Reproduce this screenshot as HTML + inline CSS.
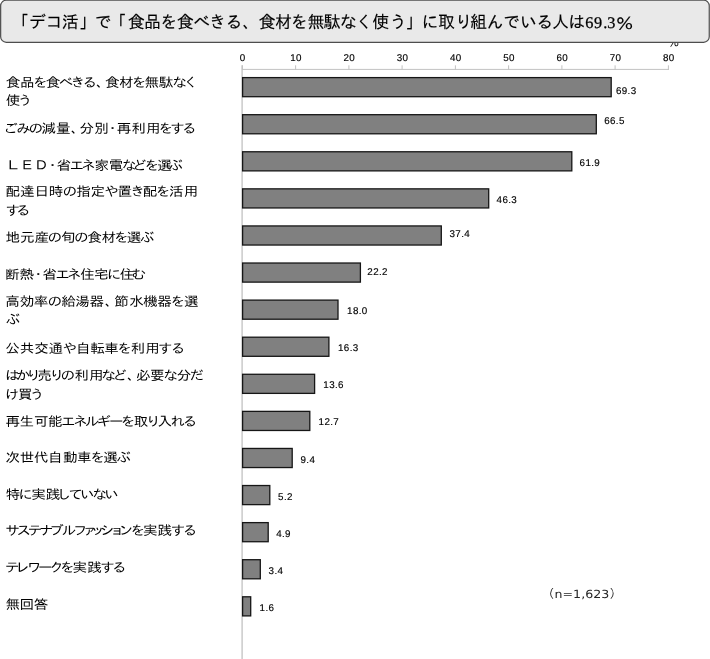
<!DOCTYPE html>
<html lang="ja">
<head>
<meta charset="utf-8">
<title>デコ活</title>
<style>
html,body{margin:0;padding:0;background:#fff;}
body{width:710px;height:659px;overflow:hidden;position:relative;}
svg{display:block;position:absolute;left:0;top:0;}
text{text-rendering:geometricPrecision;}
.lab{font-family:"IPAGothic","Noto Sans CJK JP",sans-serif;font-size:14.6px;fill:#000;}
.val{font-family:"Liberation Sans",sans-serif;font-size:9.8px;fill:#000;letter-spacing:0.38px;stroke:#000;stroke-width:0.15px;}
.tick{font-family:"Liberation Sans",sans-serif;font-size:9.8px;fill:#000;text-anchor:middle;letter-spacing:0.2px;stroke:#000;stroke-width:0.15px;}
.ttl{font-family:"IPAGothic","Noto Sans CJK JP",sans-serif;font-size:17px;fill:#000;stroke:#000;stroke-width:0.12px;}
.ttln{font-family:"Liberation Serif",serif;font-size:16.3px;fill:#000;stroke:#000;stroke-width:0.3px;}
.nn{font-family:"DejaVu Sans",sans-serif;font-size:11.2px;fill:#262626;}
.np{font-family:"IPAGothic","Noto Sans CJK JP",sans-serif;font-size:12px;fill:#262626;}
</style>
</head>
<body>
<svg width="710" height="659" viewBox="0 0 710 659">
<text x="668.3" y="45.6" class="lab" style="font-size:11px">％</text>
<rect x="0.65" y="0.25" width="708.6" height="42.05" rx="5.6" ry="5.6" fill="#e9e9e9" stroke="#4d4d4d" stroke-width="1.2"/>
<text x="11.76 29.05 45.85 61.72 79.29 94.78 109.31 127.74 144.11 160.13 176.74 193.24 208.97 225.56 242.52 258.44 274.89 290.78 307.50 323.46 339.68 355.86 372.21 389.66 405.74 421.57 437.98 455.21 470.10 486.57 503.28 520.01 536.16 552.11 568.32" y="28.0" class="ttl">「デコ活」で「食品を食べきる、食材を無駄なく使う」に取り組んでいる人は</text>
<text x="585.3 594.0 603.3 607.3" y="28.3" class="ttln">69.3</text>
<text transform="translate(615.71,28.6) scale(1,0.84)" class="ttl" style="font-size:17.8px">％</text>
<line x1="242.1" y1="65.3" x2="242.1" y2="659" stroke="#c2c2c2" stroke-width="1.3"/>
<line x1="242.4" y1="69.4" x2="668.9" y2="69.4" stroke="#c2c2c2" stroke-width="1"/>
<line x1="242.4" y1="65.3" x2="242.4" y2="69.9" stroke="#c2c2c2" stroke-width="1"/>
<text x="242.7" y="60.6" class="tick">0</text>
<line x1="295.6" y1="65.3" x2="295.6" y2="69.9" stroke="#c2c2c2" stroke-width="1"/>
<text x="295.9" y="60.6" class="tick">10</text>
<line x1="348.9" y1="65.3" x2="348.9" y2="69.9" stroke="#c2c2c2" stroke-width="1"/>
<text x="349.2" y="60.6" class="tick">20</text>
<line x1="402.1" y1="65.3" x2="402.1" y2="69.9" stroke="#c2c2c2" stroke-width="1"/>
<text x="402.4" y="60.6" class="tick">30</text>
<line x1="455.4" y1="65.3" x2="455.4" y2="69.9" stroke="#c2c2c2" stroke-width="1"/>
<text x="455.7" y="60.6" class="tick">40</text>
<line x1="508.6" y1="65.3" x2="508.6" y2="69.9" stroke="#c2c2c2" stroke-width="1"/>
<text x="508.9" y="60.6" class="tick">50</text>
<line x1="561.9" y1="65.3" x2="561.9" y2="69.9" stroke="#c2c2c2" stroke-width="1"/>
<text x="562.2" y="60.6" class="tick">60</text>
<line x1="615.1" y1="65.3" x2="615.1" y2="69.9" stroke="#c2c2c2" stroke-width="1"/>
<text x="615.4" y="60.6" class="tick">70</text>
<line x1="668.4" y1="65.3" x2="668.4" y2="69.9" stroke="#c2c2c2" stroke-width="1"/>
<text x="668.7" y="60.6" class="tick">80</text>
<rect x="242.6" y="77.60" width="368.6" height="19.1" fill="#808080" stroke="#161616" stroke-width="1.3"/>
<text x="615.9" y="94.1" class="val">69.3</text>
<text transform="scale(1,0.895)" x="5.70 19.94 32.89 45.82 58.84 70.58 82.51 96.02 105.06 119.12 131.78 144.55 158.83 172.17 183.56" y="97.37" class="lab">食品を食べきる、食材を無駄なく</text>
<text transform="scale(1,0.895)" x="5.64 17.84" y="117.82" class="lab">使う</text>
<rect x="242.6" y="114.69" width="353.7" height="19.1" fill="#808080" stroke="#161616" stroke-width="1.3"/>
<text x="604.2" y="123.6" class="val">66.5</text>
<text transform="scale(1,0.895)" x="3.26 16.19 28.42 41.59 56.09 70.72 79.60 94.25 105.35 116.80 131.45 145.99 158.41 170.24 182.10" y="148.44" class="lab">ごみの減量、分別・再利用をする</text>
<rect x="242.6" y="151.77" width="329.2" height="19.1" fill="#808080" stroke="#161616" stroke-width="1.3"/>
<text x="579.6" y="165.7" class="val">61.9</text>
<text transform="scale(1,0.895)" x="6.01 20.12 33.95 45.34 56.40 69.62 81.10 94.43 108.79 121.72 132.30 144.43 157.19 168.58" y="189.50" class="lab">ＬＥＤ・省エネ家電などを選ぶ</text>
<rect x="242.6" y="188.85" width="246.1" height="19.1" fill="#808080" stroke="#161616" stroke-width="1.3"/>
<text x="496.6" y="202.5" class="val">46.3</text>
<text transform="scale(1,0.895)" x="5.45 19.97 34.47 48.69 62.47 76.13 90.38 104.21 117.62 130.26 142.76 155.87 168.92 183.83" y="219.44" class="lab">配達日時の指定や置き配を活用</text>
<text transform="scale(1,0.895)" x="5.41 15.90" y="240.00" class="lab">する</text>
<rect x="242.6" y="225.94" width="198.7" height="19.1" fill="#808080" stroke="#161616" stroke-width="1.3"/>
<text x="449.5" y="236.9" class="val">37.4</text>
<text transform="scale(1,0.895)" x="5.58 19.88 34.43 47.52 61.09 74.08 87.34 101.40 114.09 126.83 139.98" y="270.67" class="lab">地元産の旬の食材を選ぶ</text>
<rect x="242.6" y="263.02" width="117.8" height="19.1" fill="#808080" stroke="#161616" stroke-width="1.3"/>
<text x="367.3" y="275.1" class="val">22.2</text>
<text transform="scale(1,0.895)" x="5.13 19.53 30.92 42.19 55.34 66.85 80.28 94.03 106.64 119.83 131.42" y="312.01" class="lab">断熱・省エネ住宅に住む</text>
<rect x="242.6" y="300.11" width="95.4" height="19.1" fill="#808080" stroke="#161616" stroke-width="1.3"/>
<text x="347.1" y="313.9" class="val">18.0</text>
<text transform="scale(1,0.895)" x="5.20 19.72 33.70 47.53 61.31 75.17 89.48 104.79 114.37 129.24 143.31 157.13 170.55 183.92" y="342.01" class="lab">高効率の給湯器、節水機器を選</text>
<text transform="scale(1,0.895)" x="5.66" y="362.57" class="lab">ぶ</text>
<rect x="242.6" y="337.20" width="86.3" height="19.1" fill="#808080" stroke="#161616" stroke-width="1.3"/>
<text x="338.0" y="351.1" class="val">16.3</text>
<text transform="scale(1,0.895)" x="5.37 19.85 34.29 48.59 62.44 76.02 90.36 104.31 117.26 130.64 145.18 158.08 170.70" y="393.97" class="lab">公共交通や自転車を利用する</text>
<rect x="242.6" y="374.28" width="72.0" height="19.1" fill="#808080" stroke="#161616" stroke-width="1.3"/>
<text x="323.3" y="388.2" class="val">13.6</text>
<text transform="scale(1,0.895)" x="4.99 15.64 26.31 37.13 49.61 60.41 74.48 88.94 101.35 112.54 127.05 135.90 149.89 163.21 176.82 189.52" y="424.69" class="lab">はかり売りの利用など、必要な分だ</text>
<text transform="scale(1,0.895)" x="4.71 17.96 29.74" y="445.31" class="lab">け買う</text>
<rect x="242.6" y="411.37" width="67.2" height="19.1" fill="#808080" stroke="#161616" stroke-width="1.3"/>
<text x="318.6" y="425.2" class="val">12.7</text>
<text transform="scale(1,0.895)" x="5.57 19.62 33.90 48.08 61.11 72.88 85.06 96.48 108.91 120.84 133.85 145.96 157.48 170.42 182.80" y="475.75" class="lab">再生可能エネルギーを取り入れる</text>
<rect x="242.6" y="448.45" width="49.6" height="19.1" fill="#808080" stroke="#161616" stroke-width="1.3"/>
<text x="300.5" y="462.6" class="val">9.4</text>
<text transform="scale(1,0.895)" x="5.56 19.71 34.03 48.10 63.09 76.95 90.13 103.28 116.38" y="516.37" class="lab">次世代自動車を選ぶ</text>
<rect x="242.6" y="485.53" width="27.2" height="19.1" fill="#808080" stroke="#161616" stroke-width="1.3"/>
<text x="278.1" y="499.7" class="val">5.2</text>
<text transform="scale(1,0.895)" x="5.67 18.29 31.36 45.84 56.55 68.48 80.05 92.24 104.30" y="557.32" class="lab">特に実践していない</text>
<rect x="242.6" y="522.62" width="25.6" height="19.1" fill="#808080" stroke="#161616" stroke-width="1.3"/>
<text x="276.2" y="536.9" class="val">4.9</text>
<text transform="scale(1,0.895)" x="5.13 16.52 27.83 39.01 49.32 61.66 73.00 82.42 90.53 99.97 109.75 118.80 130.40 143.11 157.60 170.87 182.80" y="598.27" class="lab">サステナブルファッションを実践する</text>
<rect x="242.6" y="559.71" width="17.7" height="19.1" fill="#808080" stroke="#161616" stroke-width="1.3"/>
<text x="268.6" y="574.0" class="val">3.4</text>
<text transform="scale(1,0.895)" x="5.02 15.22 26.96 37.96 49.29 59.98 72.51 87.15 100.24 111.90" y="638.77" class="lab">テレワークを実践する</text>
<rect x="242.6" y="596.79" width="8.1" height="19.1" fill="#808080" stroke="#161616" stroke-width="1.3"/>
<text x="259.6" y="610.6" class="val">1.6</text>
<text transform="scale(1,0.895)" x="5.39 19.61 33.78" y="679.94" class="lab">無回答</text>
<text x="542.2" y="597.5" class="np">（</text><text transform="translate(554.6,597.5) scale(1.125,1)" class="nn">n=1,623</text><text x="609.5" y="597.5" class="np">）</text>
</svg>
</body>
</html>
